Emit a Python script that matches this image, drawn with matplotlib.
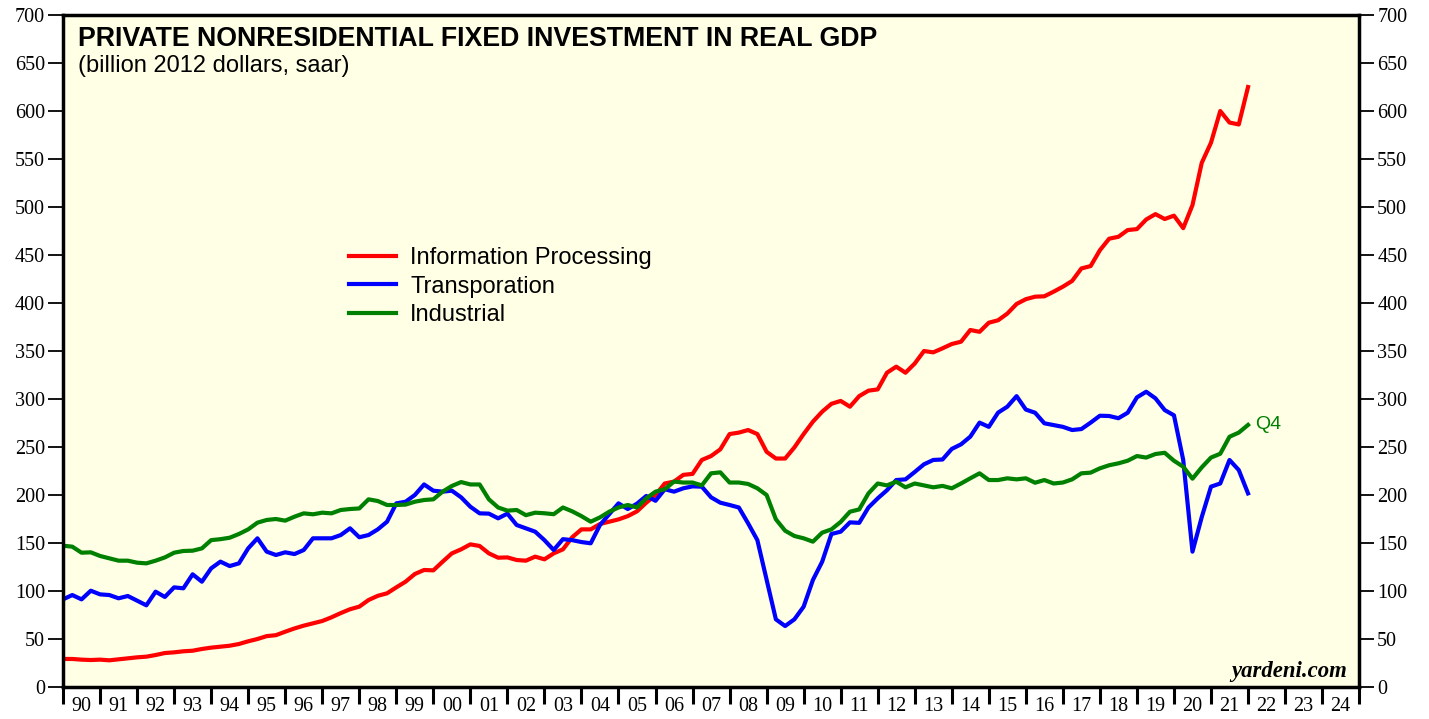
import matplotlib
matplotlib.use("Agg")
import matplotlib.pyplot as plt
import numpy as np

# quarterly data, 1989Q4 .. 2021Q4 (plotted at quarter end)
info_proc = [29.2, 29.2, 28.5, 28.1, 28.5, 27.8, 28.8, 29.9, 30.9, 31.6, 33.3, 35.4, 36.1, 37.2, 37.8, 39.6,
             41, 42, 43, 44.8, 47.6, 50, 53, 54, 57.6, 61, 63.9, 66.3, 68.75, 72.6, 77, 81,
             83.7, 90.6, 95, 97.6, 103.8, 109.7, 117.7, 121.9, 121.5, 130.5, 139.2, 143.4, 148.6, 146.9, 139.2, 134.7,
             135, 132.3, 131.6, 135.8, 133, 139.2, 143.4, 156, 164.2, 164.2, 169.8, 172.2, 174.6,
             178, 183, 192, 200, 212, 214, 221, 222, 236.5, 240.6, 247.6, 263.5, 265, 267.7, 263.5,
             245, 238, 238, 249.6, 263.5, 276.4, 286.8, 295, 298, 292, 303,
             308.7, 310, 327.4, 333.7, 327.4, 337, 350, 348.6, 352.8, 357.3, 359.7, 371.9, 370, 379.5,
             382, 389, 399, 404, 406.6, 407, 411.8, 417, 423, 436, 438.5, 455, 467,
             469, 476, 477, 487, 492.6, 487.5, 491, 478, 502, 546, 567, 600, 588, 586, 625]

transport = [91.3, 95.8, 91.3, 100.3, 96.5, 95.8, 92.4, 94.8, 90, 85.1, 99.3, 93.8, 103.8, 102.8, 117.4, 109.7,
             123.6, 130.6, 126, 128.8, 144.4, 154.9, 141, 137.5, 140.3, 138.5, 142.7, 154.9, 154.9, 154.9, 158.3, 165.3,
             156, 158.3, 164.2, 172.2, 191.3, 193, 200, 211, 204.5, 203.5, 204.5, 197.6, 187.8, 180.9, 180.6, 175.7,
             180.6, 168.75, 165.3, 161.8, 153, 142.7, 154, 153, 151, 149.7, 168.75, 180, 191.3,
             185.4, 191, 199, 194, 206, 203.5, 207, 209, 208.7, 197.6, 192, 189.6, 187, 170.5, 153,
             111.5, 70.5, 63.5, 70.5, 83.7, 111.5, 130.5, 159.4, 161.8, 171.5, 171,
             187, 196.5, 205, 215.6, 216.3, 224, 232, 236.5, 237, 248, 252.8, 260.8, 275.4, 271,
             285.8, 292, 303, 289, 285.7, 274.7, 272.9, 271, 267.7, 268.7, 275.4, 282.6, 282.3,
             280, 285.7, 301.7, 307.6, 300.7, 288.5, 283, 236.5, 141, 177, 208.7, 212, 236.5, 226, 201.7]

industrial = [147.2, 146.2, 139.9, 140.3, 136.5, 134, 131.6, 131.6, 129.5, 128.8, 131.6, 135, 139.9, 141.7, 142, 144.4,
              153, 154, 155.5, 159.4, 164.2, 171.2, 174, 175, 173.3, 177.4, 180.9, 179.9, 181.6, 180.9, 184.4, 185.4,
              186, 195.5, 193.75, 189.6, 189.6, 190, 193, 194.8, 195.5, 203.5, 209.4, 213.5, 211, 211, 195.5, 187,
              183.7, 184.4, 179, 181.6, 181, 180, 187, 183, 178, 172.2, 176.7, 182.6, 187,
              189.6, 187, 196.5, 203.5, 206, 214, 213, 213, 210, 222.6, 223.6, 213, 213, 211.5, 207,
              200, 174.7, 162.8, 157.3, 154.9, 151.4, 160.8, 164.2, 172, 182.6, 185,
              201.7, 212, 210, 213.9, 208, 212, 210, 208, 209.5, 207, 212, 217.4, 222.6, 215.6,
              215.6, 217.4, 216.3, 217.4, 212.8, 215.6, 212, 213, 216.3, 222.6, 223.3, 227.8, 231,
              233, 235.7, 240.6, 239, 242.7, 244, 235.7, 229.5, 217, 228.8, 239, 243, 260.7, 265, 273]

dates = 1990 + np.arange(len(info_proc)) / 4.0
year_labels = [f"{y % 100:02d}" for y in range(1990, 2025)]

bg = "#FFFFE6"
fig = plt.figure(figsize=(14.29, 7.19), dpi=100)
ax = fig.add_axes([0.0441, 0.0445, 0.907, 0.9346])
ax.set_facecolor(bg)

ax.plot(dates, info_proc, color="#FF0000", lw=3, label="Information Processing")
ax.plot(dates, transport, color="#0000FF", lw=3, label="Transporation")
ax.plot(dates, industrial, color="#008000", lw=3, label="Industrial")

ax.set_xlim(1990, 2025)
ax.set_ylim(0, 700)

for s in ax.spines.values():
    s.set_linewidth(2.5)

ax.set_yticks(range(0, 701, 50))
ax.tick_params(axis="y", which="both", direction="out", length=11, width=1.3,
               left=True, right=True, labelleft=True, labelright=True, labelsize=14.5, pad=2)
for lab in ax.get_yticklabels():
    lab.set_fontfamily("Liberation Serif")

ax.set_xticks(range(1990, 2026))
ax.set_xticklabels([])
ax.set_xticks(np.arange(1990.5, 2025, 1), minor=True)
ax.set_xticklabels(year_labels, minor=True, fontfamily="Liberation Serif", fontsize=14.5)
ax.tick_params(axis="x", which="major", direction="out", length=12, width=2.2)
ax.tick_params(axis="x", which="minor", length=0, pad=7)

ax.text(0.0115, 0.964, "PRIVATE NONRESIDENTIAL FIXED INVESTMENT IN REAL GDP", transform=ax.transAxes,
        fontfamily="Liberation Sans", fontweight="bold", fontsize=19.3, va="center", ha="left")
ax.text(0.0115, 0.924, "(billion 2012 dollars, saar)", transform=ax.transAxes,
        fontfamily="Liberation Sans", fontsize=17, va="center", ha="left")
ax.text(0.991, 0.015, "yardeni.com", transform=ax.transAxes, fontfamily="Liberation Serif",
        fontweight="bold", fontstyle="italic", fontsize=16.4, ha="right", va="baseline")
ax.text(dates[-1] + 0.2, industrial[-1], "Q4", color="#008000", fontfamily="Liberation Sans",
        fontsize=14, va="center", ha="left")

leg = ax.legend(loc="upper left", bbox_to_anchor=(0.204, 0.686), frameon=False,
                prop={"family": "Liberation Sans", "size": 17}, handlelength=2.0,
                handletextpad=0.6, labelspacing=0.27)

fig.savefig("out.png", dpi=100, facecolor="white")
